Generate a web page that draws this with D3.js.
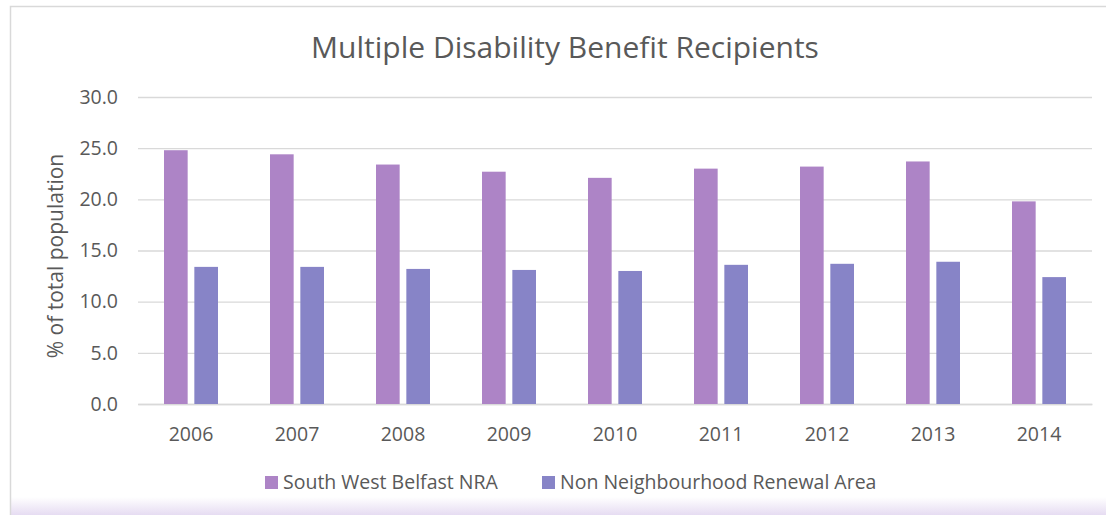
<!DOCTYPE html>
<html>
<head>
<meta charset="utf-8">
<script src="https://cdn.jsdelivr.net/npm/d3@7"></script>
<style>
  body { margin: 0; background: #fff; }
  text { font-family: "Open Sans", "Noto Sans", sans-serif; fill: #595959; }
</style>
</head>
<body>
<script>
const years = ["2006","2007","2008","2009","2010","2011","2012","2013","2014"]
const seriesNames = ["South West Belfast NRA", "Non Neighbourhood Renewal Area"]
const swBelfast = [24.8, 24.4, 23.4, 22.7, 22.1, 23.0, 23.2, 23.7, 19.8]
const nonNra = [13.4, 13.4, 13.2, 13.1, 13.0, 13.6, 13.7, 13.9, 12.4]
const yTicks = [0, 5, 10, 15, 20, 25, 30]
const colors = ["#ad84c6", "#8784c7"]

const W = 1106, H = 515
const margin = {left: 138, right: 14, top: 97, bottom: 111}

const svg = d3.select("body").append("svg")
  .attr("width", W).attr("height", H)

// bottom lilac fade
const defs = svg.append("defs")
const grad = defs.append("linearGradient").attr("id", "fade")
  .attr("x1", 0).attr("y1", 0).attr("x2", 0).attr("y2", 1)
grad.append("stop").attr("offset", "0%").attr("stop-color", "#ffffff")
grad.append("stop").attr("offset", "100%").attr("stop-color", "#e6dcf2")
svg.append("rect").attr("x", 11).attr("y", 497).attr("width", W - 11).attr("height", 18)
  .attr("fill", "url(#fade)")

// chart border (top + left)
svg.append("path").attr("d", `M${W},6.5 H10.5 V${H}`)
  .attr("fill", "none").attr("stroke", "#d9d9d9").attr("stroke-width", 1.5)

const x0 = d3.scaleBand().domain(years)
  .range([margin.left, W - margin.right])
const x1 = d3.scaleBand().domain([0, 1])
  .range([x0.bandwidth() / 2 - 27, x0.bandwidth() / 2 + 27]).paddingInner(0.22)
const y = d3.scaleLinear().domain([0, 30])
  .range([H - margin.bottom, margin.top])

// gridlines
const yAxis = d3.axisLeft(y).tickValues(yTicks).tickFormat(d3.format(".1f"))
  .tickSize(-(W - margin.right - margin.left)).tickPadding(20)
const gy = svg.append("g").attr("transform", `translate(${margin.left},0)`).call(yAxis)
gy.select(".domain").remove()
gy.selectAll("line").attr("stroke", "#d9d9d9").attr("stroke-width", 1.3)
gy.selectAll("text").style("font-size", "19.5px").attr("fill", "#595959")

const xAxis = d3.axisBottom(x0).tickSize(0).tickPadding(23)
const gx = svg.append("g").attr("transform", `translate(0,${H - margin.bottom})`).call(xAxis)
gx.select(".domain").attr("stroke", "#d9d9d9").attr("stroke-width", 1.3)
gx.selectAll("text").style("font-size", "19.5px").attr("fill", "#595959")

const data = [swBelfast, nonNra]
const groups = svg.append("g").selectAll("g")
  .data(years).join("g")
  .attr("transform", d => `translate(${x0(d)},0)`)
groups.selectAll("rect")
  .data((d, i) => data.map((s, k) => ({k: k, v: s[i]})))
  .join("rect")
  .attr("x", d => x1(d.k))
  .attr("width", x1.bandwidth())
  .attr("y", d => y(d.v))
  .attr("height", d => y(0) - y(d.v))
  .attr("fill", d => colors[d.k])

// title
svg.append("text").attr("x", 565).attr("y", 58).attr("text-anchor", "middle")
  .style("font-size", "30px").text("Multiple Disability Benefit Recipients")

// y label
svg.append("text").attr("transform", "translate(63,256) rotate(-90)")
  .attr("text-anchor", "middle").style("font-size", "21px").text("% of total population")

// legend
const legendX = [265, 542]
const lg = svg.append("g").selectAll("g").data(seriesNames).join("g")
  .attr("transform", (d, i) => `translate(${legendX[i]},476)`)
lg.append("rect").attr("width", 13).attr("height", 13).attr("fill", (d, i) => colors[i])
lg.append("text").attr("x", 18).attr("y", 13).style("font-size", "19.5px").text(d => d)
</script>
</body>
</html>
